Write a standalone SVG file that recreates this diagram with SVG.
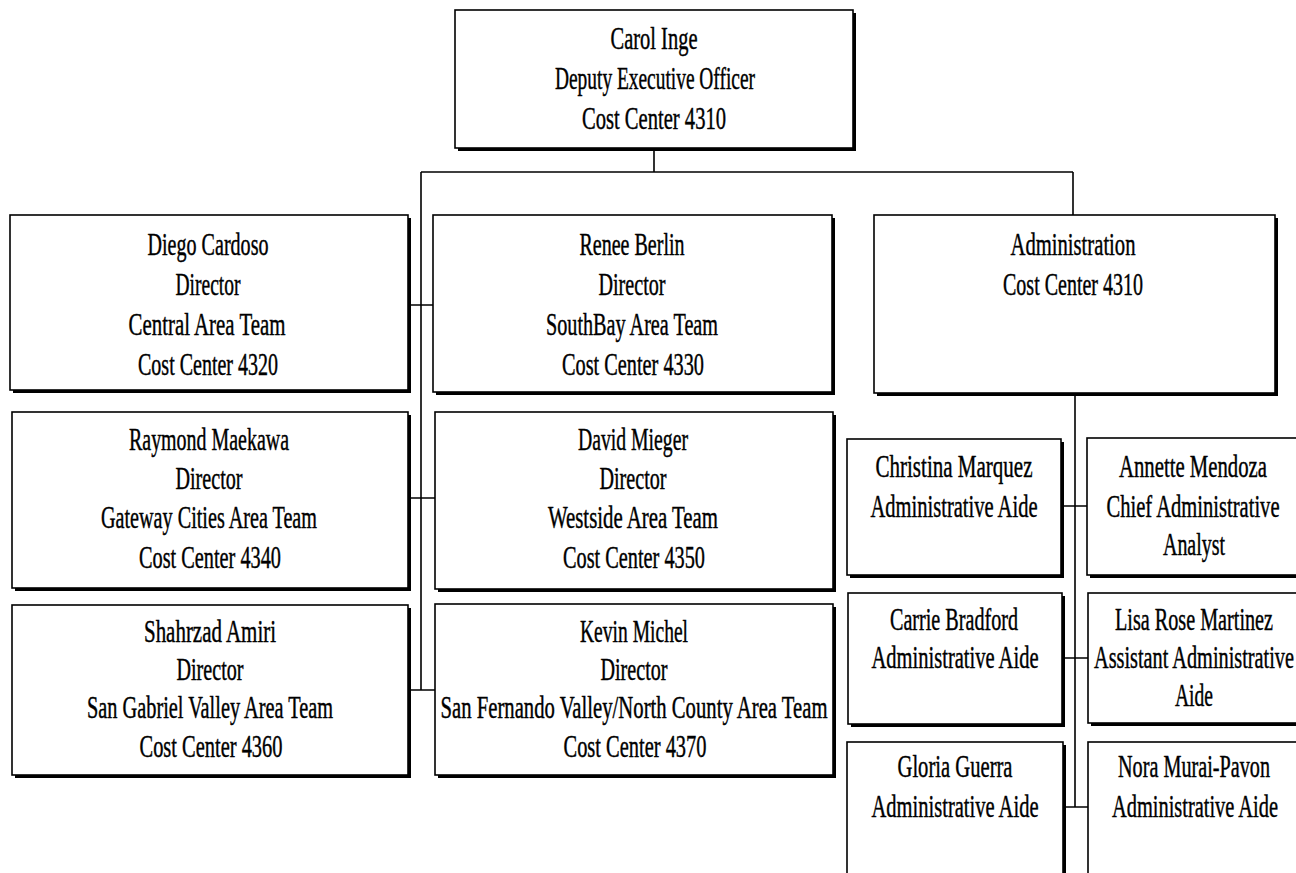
<svg xmlns="http://www.w3.org/2000/svg" width="1296" height="873" viewBox="0 0 1296 873">
<style>
.sh{fill:#000}
.bx{fill:#fff;stroke:#000;stroke-width:1.6}
.cn{fill:none;stroke:#000;stroke-width:1.6}
text{font-family:"Liberation Serif","Times New Roman",serif;font-size:32px;fill:#000;text-anchor:middle;stroke:#000;stroke-width:0.45}
</style>
<rect width="1296" height="873" fill="#fff"/>
<g id="connectors">
<path class="cn" d="M654,150V172M421,172H1073M421,172V690M408,305H433M408,498H435M408,690H435M1073,172V215M1075,393V807M1061,506H1087M1062,658H1088M1063,807H1088"/>
</g>
<g id="carol">
<rect class="sh" x="458" y="13" width="398" height="138"/>
<rect class="bx" x="455" y="10" width="398" height="138"/>
<text x="654" y="49" textLength="87" lengthAdjust="spacingAndGlyphs">Carol Inge</text>
<text x="655" y="89" textLength="200" lengthAdjust="spacingAndGlyphs">Deputy Executive Officer</text>
<text x="654" y="129" textLength="144" lengthAdjust="spacingAndGlyphs">Cost Center 4310</text>
</g>
<g id="diego">
<rect class="sh" x="13" y="218" width="398" height="175"/>
<rect class="bx" x="10" y="215" width="398" height="175"/>
<text x="208" y="255" textLength="121" lengthAdjust="spacingAndGlyphs">Diego Cardoso</text>
<text x="208" y="295" textLength="65" lengthAdjust="spacingAndGlyphs">Director</text>
<text x="207" y="335" textLength="157" lengthAdjust="spacingAndGlyphs">Central Area Team</text>
<text x="208" y="375" textLength="140" lengthAdjust="spacingAndGlyphs">Cost Center 4320</text>
</g>
<g id="renee">
<rect class="sh" x="436" y="218" width="399" height="177"/>
<rect class="bx" x="433" y="215" width="399" height="177"/>
<text x="632" y="255" textLength="105" lengthAdjust="spacingAndGlyphs">Renee Berlin</text>
<text x="632" y="295" textLength="67" lengthAdjust="spacingAndGlyphs">Director</text>
<text x="632" y="335" textLength="172" lengthAdjust="spacingAndGlyphs">SouthBay Area Team</text>
<text x="633" y="375" textLength="142" lengthAdjust="spacingAndGlyphs">Cost Center 4330</text>
</g>
<g id="admin">
<rect class="sh" x="877" y="218" width="401" height="178"/>
<rect class="bx" x="874" y="215" width="401" height="178"/>
<text x="1073" y="255" textLength="125" lengthAdjust="spacingAndGlyphs">Administration</text>
<text x="1073" y="295" textLength="140" lengthAdjust="spacingAndGlyphs">Cost Center 4310</text>
</g>
<g id="raymond">
<rect class="sh" x="15" y="415" width="396" height="176"/>
<rect class="bx" x="12" y="412" width="396" height="176"/>
<text x="209" y="450" textLength="160" lengthAdjust="spacingAndGlyphs">Raymond Maekawa</text>
<text x="209" y="489" textLength="67" lengthAdjust="spacingAndGlyphs">Director</text>
<text x="209" y="528" textLength="216" lengthAdjust="spacingAndGlyphs">Gateway Cities Area Team</text>
<text x="210" y="568" textLength="142" lengthAdjust="spacingAndGlyphs">Cost Center 4340</text>
</g>
<g id="david">
<rect class="sh" x="438" y="415" width="398" height="177"/>
<rect class="bx" x="435" y="412" width="398" height="177"/>
<text x="633" y="450" textLength="110" lengthAdjust="spacingAndGlyphs">David Mieger</text>
<text x="633" y="489" textLength="67" lengthAdjust="spacingAndGlyphs">Director</text>
<text x="633" y="528" textLength="170" lengthAdjust="spacingAndGlyphs">Westside Area Team</text>
<text x="634" y="568" textLength="142" lengthAdjust="spacingAndGlyphs">Cost Center 4350</text>
</g>
<g id="shahrzad">
<rect class="sh" x="15" y="608" width="396" height="170"/>
<rect class="bx" x="12" y="605" width="396" height="170"/>
<text x="210" y="642" textLength="132" lengthAdjust="spacingAndGlyphs">Shahrzad Amiri</text>
<text x="210" y="680" textLength="67" lengthAdjust="spacingAndGlyphs">Director</text>
<text x="210" y="718" textLength="246" lengthAdjust="spacingAndGlyphs">San Gabriel Valley Area Team</text>
<text x="211" y="757" textLength="143" lengthAdjust="spacingAndGlyphs">Cost Center 4360</text>
</g>
<g id="kevin">
<rect class="sh" x="438" y="607" width="398" height="171"/>
<rect class="bx" x="435" y="604" width="398" height="171"/>
<text x="634" y="642" textLength="108" lengthAdjust="spacingAndGlyphs">Kevin Michel</text>
<text x="634" y="680" textLength="67" lengthAdjust="spacingAndGlyphs">Director</text>
<text x="634" y="718" textLength="387" lengthAdjust="spacingAndGlyphs">San Fernando Valley/North County Area Team</text>
<text x="635" y="757" textLength="143" lengthAdjust="spacingAndGlyphs">Cost Center 4370</text>
</g>
<g id="christina">
<rect class="sh" x="850" y="442" width="214" height="136"/>
<rect class="bx" x="847" y="439" width="214" height="136"/>
<text x="954" y="477" textLength="157" lengthAdjust="spacingAndGlyphs">Christina Marquez</text>
<text x="954" y="517" textLength="167" lengthAdjust="spacingAndGlyphs">Administrative Aide</text>
</g>
<g id="annette">
<rect class="sh" x="1090" y="441" width="213" height="137"/>
<rect class="bx" x="1087" y="438" width="213" height="137"/>
<text x="1193" y="477" textLength="148" lengthAdjust="spacingAndGlyphs">Annette Mendoza</text>
<text x="1193" y="517" textLength="173" lengthAdjust="spacingAndGlyphs">Chief Administrative</text>
<text x="1194" y="555" textLength="62" lengthAdjust="spacingAndGlyphs">Analyst</text>
</g>
<g id="carrie">
<rect class="sh" x="851" y="596" width="214" height="131"/>
<rect class="bx" x="848" y="593" width="214" height="131"/>
<text x="954" y="630" textLength="128" lengthAdjust="spacingAndGlyphs">Carrie Bradford</text>
<text x="955" y="668" textLength="167" lengthAdjust="spacingAndGlyphs">Administrative Aide</text>
</g>
<g id="lisa">
<rect class="sh" x="1091" y="596" width="212" height="130"/>
<rect class="bx" x="1088" y="593" width="212" height="130"/>
<text x="1194" y="630" textLength="158" lengthAdjust="spacingAndGlyphs">Lisa Rose Martinez</text>
<text x="1194" y="668" textLength="200" lengthAdjust="spacingAndGlyphs">Assistant Administrative</text>
<text x="1194" y="706" textLength="38" lengthAdjust="spacingAndGlyphs">Aide</text>
</g>
<g id="gloria">
<rect class="sh" x="850" y="745" width="216" height="140"/>
<rect class="bx" x="847" y="742" width="216" height="140"/>
<text x="955" y="777" textLength="115" lengthAdjust="spacingAndGlyphs">Gloria Guerra</text>
<text x="955" y="817" textLength="167" lengthAdjust="spacingAndGlyphs">Administrative Aide</text>
</g>
<g id="nora">
<rect class="sh" x="1091" y="745" width="212" height="140"/>
<rect class="bx" x="1088" y="742" width="212" height="140"/>
<text x="1194" y="777" textLength="152" lengthAdjust="spacingAndGlyphs">Nora Murai-Pavon</text>
<text x="1195" y="817" textLength="166" lengthAdjust="spacingAndGlyphs">Administrative Aide</text>
</g>
</svg>
